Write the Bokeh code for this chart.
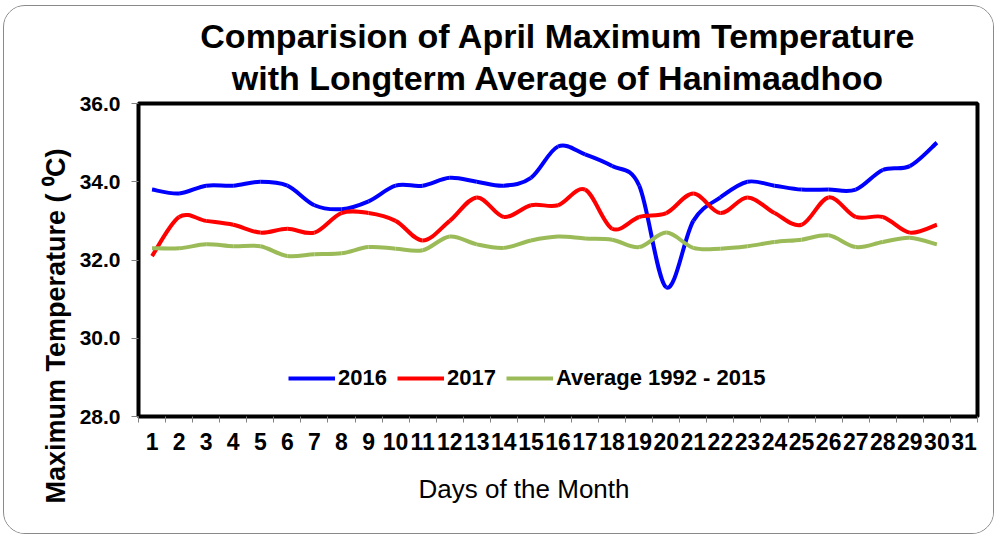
import numpy as np
from bokeh.plotting import figure
from bokeh.models import (ColumnDataSource, FixedTicker, PrintfTickFormatter, Title,
                          Legend, LegendItem, Range1d)
from bokeh.embed import file_html
from bokeh.resources import INLINE

# ---------------- data ----------------
days = list(range(1, 31))
x_ticks = list(range(1, 32))
y_ticks = [28, 30, 32, 34, 36]

t2016 = [33.8, 33.7, 33.9, 33.9, 34.0, 33.9, 33.4, 33.3, 33.5, 33.9,
         33.9, 34.1, 34.0, 33.9, 34.1, 34.9, 34.7, 34.4, 33.9, 31.3,
         33.0, 33.6, 34.0, 33.9, 33.8, 33.8, 33.8, 34.3, 34.4, 35.0]
t2017 = [32.1, 33.1, 33.0, 32.9, 32.7, 32.8, 32.7, 33.2, 33.2, 33.0,
         32.5, 33.0, 33.6, 33.1, 33.4, 33.4, 33.8, 32.8, 33.1, 33.2,
         33.7, 33.2, 33.6, 33.2, 32.9, 33.6, 33.1, 33.1, 32.7, 32.9]
tavg = [32.3, 32.3, 32.4, 32.35, 32.35, 32.1, 32.15, 32.17, 32.33, 32.29,
        32.25, 32.6, 32.4, 32.31, 32.5, 32.6, 32.55, 32.52, 32.33, 32.7,
        32.31, 32.29, 32.35, 32.46, 32.52, 32.63, 32.33, 32.46, 32.57, 32.4]

series = [("2016", t2016, "#0000FF"),
          ("2017", t2017, "#FF0000"),
          ("Average 1992 - 2015", tavg, "#9BBB59")]

title_lines = ["Comparision of April Maximum Temperature",
               "with Longterm Average of Hanimaadhoo"]
y_title = "Maximum Temperature ( \u2070C)"
x_title = "Days of the Month"

FONT = "Liberation Sans"


def smooth_source(xs, ys):
    """Bezier segments (Excel-like smoothed line) through the data points."""
    x = np.asarray(xs, dtype=float)
    y = np.asarray(ys, dtype=float)
    xm = np.concatenate([[x[0]], x[:-2]])
    ym = np.concatenate([[y[0]], y[:-2]])
    xp = np.concatenate([x[2:], [x[-1]]])
    yp = np.concatenate([y[2:], [y[-1]]])
    x0, y0, x1, y1 = x[:-1], y[:-1], x[1:], y[1:]
    cx0 = x0 + (x1 - xm) / 6.0
    cy0 = y0 + (y1 - ym) / 6.0
    cx1 = x1 - (xp - x0) / 6.0
    cy1 = y1 - (yp - y0) / 6.0
    return ColumnDataSource(dict(x0=x0, y0=y0, x1=x1, y1=y1,
                                 cx0=cx0, cy0=cy0, cx1=cx1, cy1=cy1))


p = figure(width=991, height=529, output_backend="svg", toolbar_location=None,
           x_range=Range1d(0.5, 31.5), y_range=Range1d(28, 36),
           min_border_left=134, min_border_right=18,
           min_border_top=97, min_border_bottom=119)
p.styles = {"border": "1px solid #8a8a8a", "border-radius": "22px",
            "overflow": "hidden", "margin-left": "3px", "margin-top": "5px"}
p.border_fill_color = "white"
p.background_fill_color = "white"
p.outline_line_color = "black"
p.outline_line_width = 4
p.xgrid.visible = False
p.ygrid.visible = False

# titles: p.title is the outer line, the added Title sits nearest the frame
p.title.text = title_lines[0]
p.title.align = "center"
p.title.text_font = FONT
p.title.text_font_style = "bold"
p.title.text_font_size = "34px"
p.title.text_color = "black"
p.title.standoff = -9
p.add_layout(Title(text=title_lines[1], align="center", text_font=FONT,
                   text_font_style="bold", text_font_size="34px",
                   text_color="black", standoff=13), "above")

# x axis
xa = p.xaxis[0]
xa.ticker = FixedTicker(ticks=x_ticks, minor_ticks=[v - 0.5 for v in x_ticks] + [x_ticks[-1] + 0.5])
xa.axis_line_color = None
xa.major_tick_line_color = None
xa.major_tick_out = 0
xa.major_tick_in = 0
xa.minor_tick_line_color = "#808080"
xa.minor_tick_out = 6
xa.minor_tick_in = 0
xa.major_label_standoff = 10
xa.major_label_text_font = FONT
xa.major_label_text_font_style = "bold"
xa.major_label_text_font_size = "23px"
xa.major_label_text_color = "black"

# y axis
ya = p.yaxis[0]
ya.ticker = FixedTicker(ticks=y_ticks)
ya.formatter = PrintfTickFormatter(format="%.1f")
ya.axis_line_color = None
ya.major_tick_line_color = "#808080"
ya.major_tick_out = 7
ya.major_tick_in = 0
ya.minor_tick_line_color = None
ya.major_label_standoff = 11
ya.major_label_text_font = FONT
ya.major_label_text_font_style = "bold"
ya.major_label_text_font_size = "21px"
ya.major_label_text_color = "black"

# axis titles as side-panel titles (shifted like the original)
p.add_layout(Title(text=y_title, align="left", offset=-87, text_font=FONT,
                   text_font_style="bold", text_font_size="27px",
                   text_color="black", standoff=11), "left")
p.add_layout(Title(text=x_title, align="left", offset=280, text_font=FONT,
                   text_font_style="normal", text_font_size="26px",
                   text_color="black", standoff=38), "below")

items = []
for name, vals, color in series:
    src = smooth_source(days, vals)
    r = p.bezier(x0="x0", y0="y0", x1="x1", y1="y1", cx0="cx0", cy0="cy0",
                 cx1="cx1", cy1="cy1", source=src, line_color=color, line_width=4)
    items.append(LegendItem(label=name, renderers=[r]))

legend = Legend(items=items, orientation="horizontal", location=(150, 25),
                padding=0, margin=0, spacing=10, glyph_width=47, glyph_height=20,
                label_standoff=3, border_line_color=None, background_fill_alpha=0,
                label_text_font=FONT, label_text_font_style="bold",
                label_text_font_size="22px", label_text_color="black")
p.add_layout(legend, "center")

open("out.html", "w").write(file_html(p, INLINE))
